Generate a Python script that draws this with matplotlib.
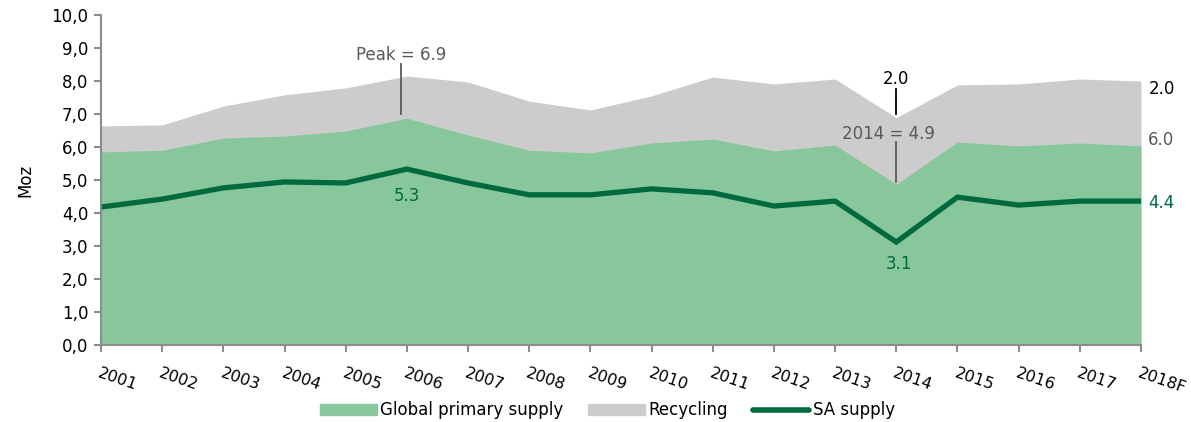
import numpy as np
import matplotlib.pyplot as plt
from matplotlib.lines import Line2D
from matplotlib.patches import Patch
from matplotlib.ticker import FuncFormatter

years = ['2001', '2002', '2003', '2004', '2005', '2006', '2007', '2008', '2009',
         '2010', '2011', '2012', '2013', '2014', '2015', '2016', '2017', '2018F']
primary = [5.85, 5.9, 6.27, 6.33, 6.48, 6.87, 6.36, 5.9, 5.82,
           6.12, 6.24, 5.88, 6.06, 4.87, 6.15, 6.03, 6.12, 6.03]
recycling = [0.79, 0.77, 0.97, 1.25, 1.31, 1.28, 1.61, 1.49, 1.3,
             1.43, 1.88, 2.03, 2.0, 2.02, 1.73, 1.88, 1.94, 1.97]
sa_supply = [4.18, 4.42, 4.76, 4.94, 4.91, 5.33, 4.91, 4.55, 4.55,
             4.73, 4.61, 4.21, 4.36, 3.12, 4.48, 4.24, 4.36, 4.36]

green_fill = '#88c69c'
grey_fill = '#cccccc'
dark_green = '#00693e'
text_grey = '#595959'
axis_grey = '#8c8c8c'

x = np.arange(len(years))
primary = np.array(primary)
total = primary + np.array(recycling)

fig = plt.figure(figsize=(11.91, 4.22), dpi=100)
ax = fig.add_axes([0.0848, 0.1825, 0.8732, 0.782])

ax.fill_between(x, 0, total, color=grey_fill, lw=0)
ax.fill_between(x, 0, primary, color=green_fill, lw=0)
ax.plot(x, sa_supply, color=dark_green, lw=3.8, solid_joinstyle='miter')

ax.set_xlim(0, len(years) - 1)
ax.set_ylim(0, 10)
ax.set_yticks(np.arange(0, 11, 1))
ax.yaxis.set_major_formatter(FuncFormatter(lambda v, p: f'{v:.1f}'.replace('.', ',')))
ax.set_xticks(x)
ax.set_xticklabels(years, rotation=-19, ha='left', rotation_mode='anchor', fontsize=11.5)
ax.tick_params(axis='x', pad=10)
ax.tick_params(axis='y', labelsize=12, pad=4)
ax.tick_params(color=axis_grey, length=5, width=1.5)
ax.set_ylabel('Moz', fontsize=12, labelpad=12)

for s in ['top', 'right']:
    ax.spines[s].set_visible(False)
for s in ['left', 'bottom']:
    ax.spines[s].set_color(axis_grey)
    ax.spines[s].set_linewidth(1.5)

# annotations
i06 = years.index('2006')
i14 = years.index('2014')
ax.text(i06 - 0.09, 8.8, f'Peak = {primary[i06]:.1f}', color=text_grey, fontsize=12, ha='center', va='center')
ax.plot([i06 - 0.09, i06 - 0.09], [7.0, 8.5], color=text_grey, lw=1.3)
ax.text(i06, 4.5, f'{sa_supply[i06]:.1f}', color=dark_green, fontsize=12, ha='center', va='center')

ax.text(i14, 8.05, f'{recycling[i14]:.1f}', color='black', fontsize=12, ha='center', va='center')
ax.plot([i14, i14], [7.0, 7.75], color='black', lw=1.3)
ax.text(i14 - 0.12, 6.4, f'{i14 + 2001} = {primary[i14]:.1f}', color=text_grey, fontsize=12, ha='center', va='center')
ax.plot([i14, i14], [4.95, 6.15], color=text_grey, lw=1.3)
ax.text(i14 + 0.05, 2.45, f'{sa_supply[i14]:.1f}', color=dark_green, fontsize=12, ha='center', va='center')

last = len(years) - 1
ax.text(last + 0.12, 7.75, f'{recycling[last]:.1f}', color='black', fontsize=12, ha='left', va='center', clip_on=False)
ax.text(last + 0.12, 6.2, f'{primary[last]:.1f}', color=text_grey, fontsize=12, ha='left', va='center', clip_on=False)
ax.text(last + 0.12, 4.3, f'{sa_supply[last]:.1f}', color=dark_green, fontsize=12, ha='left', va='center', clip_on=False)

handles = [Patch(color=green_fill, label='Global primary supply'),
           Patch(color=grey_fill, label='Recycling'),
           Line2D([], [], color=dark_green, lw=4, solid_capstyle='round', label='SA supply')]
fig.legend(handles=handles, loc='center', bbox_to_anchor=(0.51, 0.028), ncol=3, frameon=False,
           fontsize=12, handlelength=3.4, handleheight=0.6, handletextpad=0.2, columnspacing=1.5)

fig.savefig('out.png', dpi=100)
